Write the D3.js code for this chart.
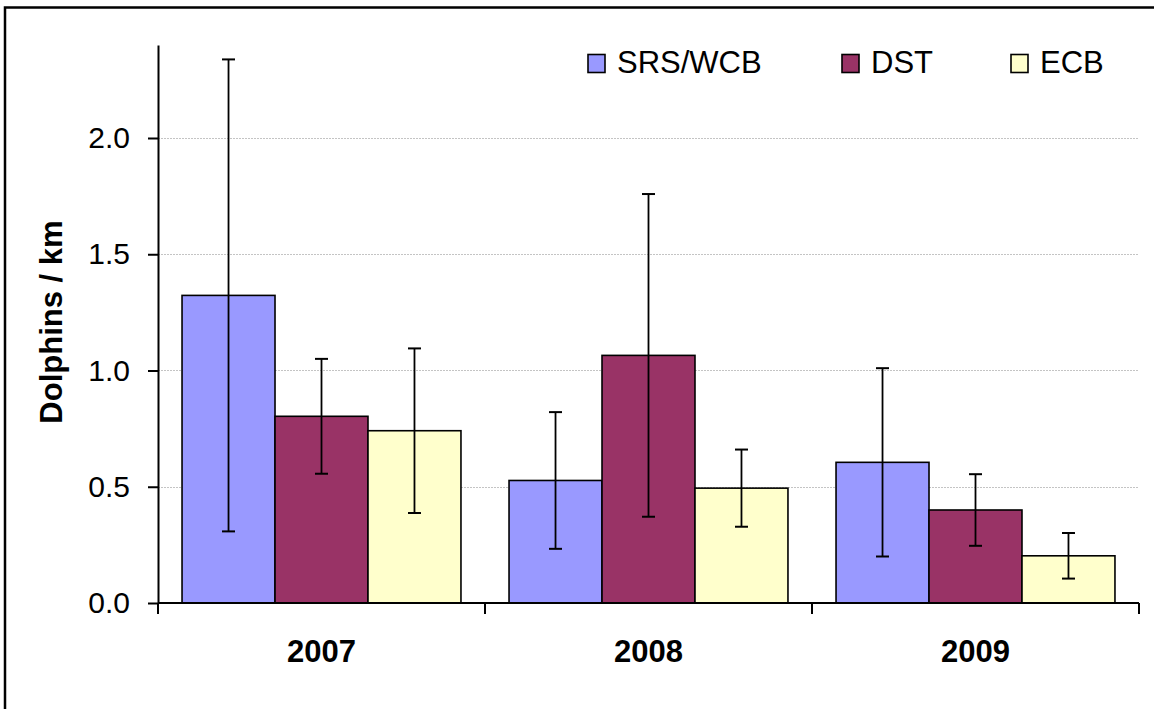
<!DOCTYPE html>
<html>
<head>
<meta charset="utf-8">
<script src="https://cdn.jsdelivr.net/npm/d3@7"></script>
<style>
  html, body { margin: 0; padding: 0; background: #fff; }
  svg { display: block; font-family: "Liberation Sans", Arial, sans-serif; }
</style>
</head>
<body>
<svg id="chart" width="1154" height="709"></svg>
<script>
// ---- data ----
const years = ["2007", "2008", "2009"];
const seriesNames = ["SRS/WCB", "DST", "ECB"];
const srsValues = [1.323, 0.527, 0.605];
const srsErrors = [1.015, 0.294, 0.405];
const dstValues = [0.803, 1.065, 0.400];
const dstErrors = [0.247, 0.694, 0.154];
const ecbValues = [0.741, 0.494, 0.203];
const ecbErrors = [0.354, 0.166, 0.098];
const yTicks = [0, 0.5, 1.0, 1.5, 2.0];
const yTitle = "Dolphins / km";
const colors = ["#9999FF", "#993366", "#FFFFCC"];

const valuesBySeries = [srsValues, dstValues, ecbValues];
const errorsBySeries = [srsErrors, dstErrors, ecbErrors];
const rows = [];
years.forEach((yr, i) => {
  seriesNames.forEach((s, j) => {
    rows.push({ year: yr, series: s, idx: j, value: valuesBySeries[j][i], err: errorsBySeries[j][i] });
  });
});

// ---- layout ----
const svg = d3.select("#chart");
const plotLeft = 158, plotRight = 1139, plotTop = 45, plotBottom = 603;

const x0 = d3.scaleBand().domain(years).range([plotLeft, plotRight]).padding(0);
const gap = x0.bandwidth() * 0.0735;
const x1 = d3.scaleBand().domain(seriesNames).range([gap, x0.bandwidth() - gap]).padding(0);
const y = d3.scaleLinear().domain([0, 2.4]).range([plotBottom, plotTop]);

// outer frame
svg.append("rect")
  .attr("x", 5).attr("y", 7.5)
  .attr("width", 1200).attr("height", 760)
  .attr("fill", "none").attr("stroke", "#000").attr("stroke-width", 2.5);

// gridlines
svg.append("g").selectAll("line")
  .data(yTicks.filter(d => d > 0))
  .join("line")
  .attr("x1", plotLeft).attr("x2", plotRight)
  .attr("y1", d => Math.round(y(d)) + 0.5).attr("y2", d => Math.round(y(d)) + 0.5)
  .attr("stroke", "#c4c4c4").attr("stroke-width", 1).attr("stroke-dasharray", "2,1");

// bars
const groups = svg.append("g").selectAll("g")
  .data(rows)
  .join("g")
  .attr("transform", d => `translate(${x0(d.year)},0)`);

groups.append("rect")
  .attr("x", d => x1(d.series))
  .attr("y", d => y(d.value))
  .attr("width", x1.bandwidth())
  .attr("height", d => y(0) - y(d.value))
  .attr("fill", d => colors[d.idx])
  .attr("stroke", "#000").attr("stroke-width", 1.6);

// error bars
const capHalf = 6.5;
groups.each(function(d) {
  const g = d3.select(this);
  const cx = x1(d.series) + x1.bandwidth() / 2;
  const top = y(d.value + d.err), bot = y(d.value - d.err);
  g.append("line").attr("x1", cx).attr("x2", cx).attr("y1", top).attr("y2", bot)
    .attr("stroke", "#000").attr("stroke-width", 1.8);
  [top, bot].forEach(v => {
    g.append("line").attr("x1", cx - capHalf).attr("x2", cx + capHalf).attr("y1", v).attr("y2", v)
      .attr("stroke", "#000").attr("stroke-width", 2);
  });
});

// y axis
const yAxis = d3.axisLeft(y).tickValues(yTicks).tickFormat(d3.format(".1f"))
  .tickSize(10).tickPadding(18).tickSizeOuter(0);
const gy = svg.append("g").attr("transform", `translate(${plotLeft},0)`).call(yAxis);
gy.select(".domain").attr("stroke", "#000").attr("stroke-width", 2);
gy.selectAll(".tick line").attr("stroke", "#000").attr("stroke-width", 2);
gy.selectAll(".tick text").attr("font-size", 30).attr("fill", "#000")
  .attr("font-family", "'Liberation Sans', Arial, sans-serif");
svg.append("line").attr("x1", plotLeft).attr("x2", plotLeft)
  .attr("y1", plotBottom).attr("y2", plotBottom + 11)
  .attr("stroke", "#000").attr("stroke-width", 2);

// x axis baseline and boundary ticks
svg.append("line").attr("x1", plotLeft).attr("x2", plotRight)
  .attr("y1", plotBottom).attr("y2", plotBottom)
  .attr("stroke", "#000").attr("stroke-width", 2);
const boundaries = years.map(yr => x0(yr)).concat([x0.range()[1]]);
svg.append("g").selectAll("line").data(boundaries.slice(1))
  .join("line")
  .attr("x1", d => d).attr("x2", d => d)
  .attr("y1", plotBottom).attr("y2", plotBottom + 11)
  .attr("stroke", "#000").attr("stroke-width", 2);

// year labels
svg.append("g").selectAll("text").data(years)
  .join("text")
  .attr("x", d => x0(d) + x0.bandwidth() / 2)
  .attr("y", 662)
  .attr("text-anchor", "middle")
  .attr("font-size", 31).attr("font-weight", "bold")
  .text(d => d);

// y title
svg.append("text")
  .attr("transform", `translate(62,322) rotate(-90)`)
  .attr("text-anchor", "middle")
  .attr("font-size", 31).attr("font-weight", "bold")
  .text(yTitle);

// legend
const legendX = [588, 842, 1011];
const legend = svg.append("g").selectAll("g").data(seriesNames)
  .join("g")
  .attr("transform", (d, i) => `translate(${legendX[i]},54.5)`);
legend.append("rect").attr("x", 0).attr("y", 0).attr("width", 17).attr("height", 18)
  .attr("fill", (d, i) => colors[i]).attr("stroke", "#000").attr("stroke-width", 1.6);
legend.append("text").attr("x", 29).attr("y", 18.5)
  .attr("font-size", 31).text(d => d);
</script>
</body>
</html>
